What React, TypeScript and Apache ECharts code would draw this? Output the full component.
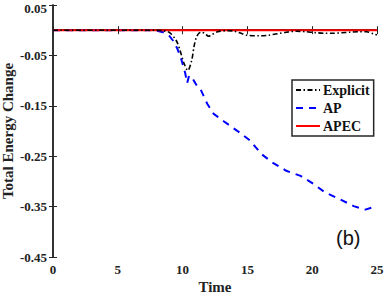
import React, { useEffect, useRef } from "react";
import * as echarts from "echarts";

const explicitT = [0, 5, 8, 8.5, 9, 9.5, 9.8, 10.1, 10.4, 10.7, 10.9, 11.1, 11.4, 11.7, 12, 12.3, 12.7, 13.5, 14, 14.6, 15, 16, 16.6, 17.3, 18, 18.8, 19.5, 20.3, 21, 21.6, 22.3, 22.9, 23.6, 24.2, 24.8, 25];
const explicitV = [0, 0, 0, -0.001, -0.005, -0.02, -0.04, -0.065, -0.08, -0.06, -0.03, -0.012, -0.004, -0.006, -0.012, -0.008, -0.003, -0.001, -0.002, -0.007, -0.01, -0.011, -0.01, -0.007, -0.004, -0.002, -0.003, -0.005, -0.006, -0.006, -0.005, -0.004, -0.003, -0.003, -0.008, -0.009];

const apT = [0, 7.5, 8, 8.5, 9, 9.3, 9.6, 9.9, 10.2, 10.35, 10.5, 10.8, 11.1, 11.4, 11.9, 12.4, 13.3, 14.4, 15.2, 16.1, 16.9, 18, 19.1, 20.1, 21, 22.1, 23.2, 24.1, 24.7, 25];
const apV = [0, 0, -0.001, -0.004, -0.012, -0.022, -0.037, -0.058, -0.085, -0.105, -0.09, -0.097, -0.11, -0.118, -0.146, -0.166, -0.183, -0.203, -0.219, -0.246, -0.262, -0.279, -0.289, -0.305, -0.322, -0.335, -0.349, -0.356, -0.351, -0.35];

const apecT = [0, 25];
const apecV = [0, 0];

const yTicks = [0.05, -0.05, -0.15, -0.25, -0.35, -0.45];
const yTickLabels = ["0.05", "-0.05", "-0.15", "-0.25", "-0.35", "-0.45"];

const zip = (t: number[], v: number[]) => t.map((x, i) => [x, v[i]]);

const FONT = "Liberation Serif";
const AX = "#262626";

export default function App() {
  const ref = useRef<HTMLDivElement>(null);
  useEffect(() => {
    const chart = echarts.init(ref.current!, undefined, { renderer: "svg" });
    const axisLine = { show: true, lineStyle: { color: AX, width: 1.5 } };
    const labelFont = { fontFamily: FONT, fontWeight: "bold", fontSize: 13, color: "#222" };
    chart.setOption({
      animation: false,
      backgroundColor: "#ffffff",
      grid: { left: 53, right: 9, top: 5, bottom: 37, outerBoundsMode: "none", containLabel: false },
      xAxis: [
        {
          type: "value",
          min: 0,
          max: 25,
          interval: 5,
          name: "Time",
          nameLocation: "middle",
          nameGap: 22,
          nameMoveOverlap: false,
          nameTextStyle: { fontFamily: FONT, fontWeight: "bold", fontSize: 15, color: "#222" },
          axisLine,
          axisTick: { show: true, inside: true, length: 4, lineStyle: { color: AX, width: 1 } },
          axisLabel: { ...labelFont, margin: 6 },
          splitLine: { show: false },
        },
        {
          type: "value",
          position: "top",
          min: 0,
          max: 25,
          interval: 5,
          axisLine,
          axisTick: { show: true, inside: true, length: 4, lineStyle: { color: AX, width: 1 } },
          axisLabel: { show: false },
          splitLine: { show: false },
        },
      ],
      yAxis: [
        {
          type: "value",
          min: -0.45,
          max: 0.05,
          name: "Total Energy Change",
          nameLocation: "middle",
          nameGap: 38,
          nameMoveOverlap: false,
          nameTextStyle: { fontFamily: FONT, fontWeight: "bold", fontSize: 15, color: "#222" },
          axisLine,
          axisTick: { show: true, inside: true, length: 4, customValues: yTicks, lineStyle: { color: AX, width: 1 } },
          axisLabel: {
            ...labelFont,
            margin: 6,
            customValues: yTicks,
            rich: { top: { ...labelFont, padding: [6, 0, 0, 0] } },
            formatter: (v: number) => {
              const i = yTicks.findIndex((t) => Math.abs(t - v) < 1e-9);
              if (i < 0) return "";
              return i === 0 ? "{top|" + yTickLabels[i] + "}" : yTickLabels[i];
            },
          },
          splitLine: { show: false },
        },
        {
          type: "value",
          position: "right",
          min: -0.45,
          max: 0.05,
          axisLine,
          axisTick: { show: true, inside: true, length: 4, customValues: yTicks, lineStyle: { color: AX, width: 1 } },
          axisLabel: { show: false, customValues: yTicks },
          splitLine: { show: false },
        },
      ],
      legend: {
        left: 292,
        top: 80,
        orient: "vertical",
        backgroundColor: "#ffffff",
        borderColor: AX,
        borderWidth: 1.5,
        borderRadius: 0,
        padding: [3, 4, 3, 3],
        itemGap: 4,
        itemWidth: 24,
        itemHeight: 13,
        itemStyle: { opacity: 0 },
        textStyle: { fontFamily: FONT, fontWeight: "bold", fontSize: 14, color: "#111", padding: [0, 0, 0, -2] },
        data: ["Explicit", "AP", "APEC"],
      },
      series: [
        {
          name: "APEC",
          type: "line",
          data: zip(apecT, apecV),
          showSymbol: false,
          symbol: "none",
          lineStyle: { color: "#ff0000", width: 2 },
          itemStyle: { color: "#ff0000" },
          z: 3,
        },
        {
          name: "AP",
          type: "line",
          data: zip(apT, apV),
          showSymbol: false,
          symbol: "none",
          lineStyle: { color: "#0000ff", width: 2, type: [7, 6] },
          itemStyle: { color: "#0000ff" },
          z: 2,
        },
        {
          name: "Explicit",
          type: "line",
          data: zip(explicitT, explicitV),
          showSymbol: false,
          symbol: "none",
          smooth: 0.3,
          lineStyle: { color: "#000000", width: 1.6, type: [5, 2.5, 1.5, 2.5] },
          itemStyle: { color: "#000000" },
          z: 4,
        },
      ],
      graphic: [
        {
          type: "text",
          left: 336,
          top: 228,
          style: { text: "(b)", fontFamily: "Liberation Sans", fontSize: 20, fill: "#111" },
        },
      ],
    });
    return () => chart.dispose();
  }, []);
  return <div ref={ref} style={{ position: "absolute", left: 0, top: 0, width: 386, height: 294 }} />;
}
